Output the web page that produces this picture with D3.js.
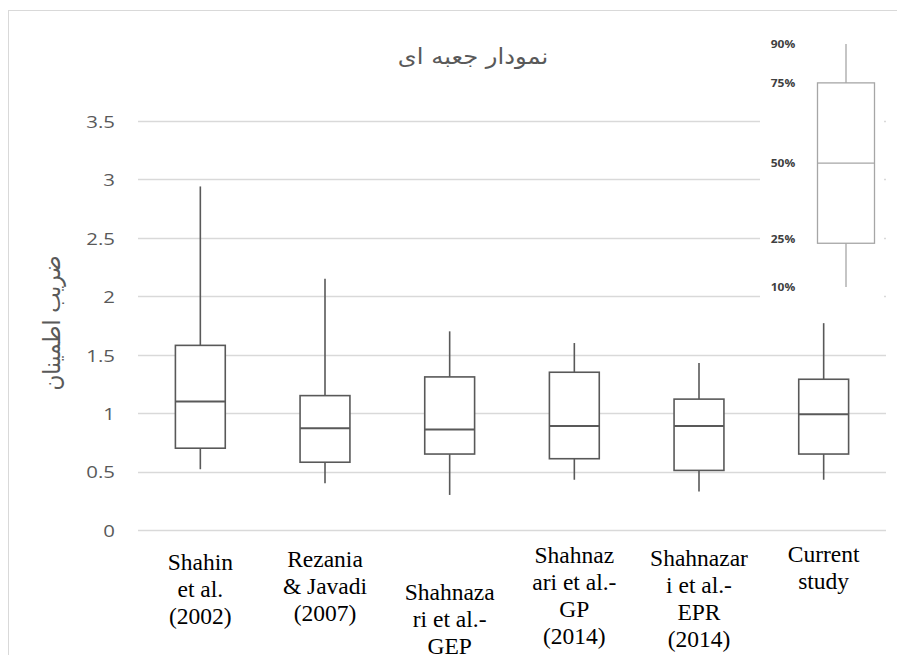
<!DOCTYPE html>
<html>
<head>
<meta charset="utf-8">
<script src="https://cdn.jsdelivr.net/npm/d3@7"></script>
<style>
html,body{margin:0;padding:0;background:#fff;}
svg{display:block;}
</style>
</head>
<body>
<svg id="chart" width="897" height="655"></svg>
<script>
// ---------- data ----------
const categories = [
  ["Shahin", "et al.", "(2002)"],
  ["Rezania", "& Javadi", "(2007)"],
  ["Shahnaza", "ri et al.-", "GEP"],
  ["Shahnaz", "ari et al.-", "GP", "(2014)"],
  ["Shahnazar", "i et al.-", "EPR", "(2014)"],
  ["Current", "study"]
];
const p10    = [0.52, 0.40, 0.30, 0.43, 0.33, 0.43];
const q1     = [0.70, 0.58, 0.65, 0.61, 0.51, 0.65];
const median = [1.10, 0.87, 0.86, 0.89, 0.89, 0.99];
const q3     = [1.58, 1.15, 1.31, 1.35, 1.12, 1.29];
const p90    = [2.94, 2.15, 1.70, 1.60, 1.43, 1.77];
const yTicks = [0, 0.5, 1, 1.5, 2, 2.5, 3, 3.5];
const title = "نمودار جعبه ای";
const yTitle = "ضریب اطمینان";
const legendLabels = ["10%", "25%", "50%", "75%", "90%"];
const legendLevels = [0, 0.18, 0.51, 0.84, 1];

// ---------- layout ----------
const W = 897, H = 655;
const plot = {left: 138, right: 886, top: 121, bottom: 530};
const stretch = 1.2;
const labelFirstBaseline = [570, 567, 600, 563, 566, 562];
const svg = d3.select("#chart");

// frame
svg.append("rect").attr("x", 8.5).attr("y", 10.5).attr("width", W).attr("height", H)
  .attr("fill", "none").attr("stroke", "#d9d9d9").attr("stroke-width", 1);

const y = d3.scaleLinear().domain([0, 3.5]).range([plot.bottom, plot.top]);
const x = d3.scaleBand().domain(d3.range(categories.length)).range([plot.left, plot.right]).padding(0);
const boxW = x.bandwidth() * 0.4;

// gridlines
svg.append("g").selectAll("line").data(yTicks).join("line")
  .attr("x1", plot.left).attr("x2", plot.right)
  .attr("y1", d => Math.round(y(d)) + 0.5).attr("y2", d => Math.round(y(d)) + 0.5)
  .attr("stroke", "#d9d9d9").attr("stroke-width", 1.3);

// y tick labels
svg.append("g").selectAll("text").data(yTicks).join("text")
  .attr("transform", d => `translate(115,${y(d)}) scale(${stretch},1)`)
  .attr("text-anchor", "end").attr("dominant-baseline", "central")
  .attr("font-family", "'Open Sans', sans-serif").attr("font-size", 17)
  .attr("fill", "#595959")
  .text(d => d);

// boxes
const stroke = "#595959";
const g = svg.append("g");
categories.forEach((c, i) => {
  const cx = x(i) + x.bandwidth() / 2;
  g.append("line").attr("x1", cx).attr("x2", cx).attr("y1", y(q3[i])).attr("y2", y(p90[i]))
    .attr("stroke", stroke).attr("stroke-width", 1.6);
  g.append("line").attr("x1", cx).attr("x2", cx).attr("y1", y(q1[i])).attr("y2", y(p10[i]))
    .attr("stroke", stroke).attr("stroke-width", 1.6);
  g.append("rect").attr("x", cx - boxW / 2).attr("y", y(q3[i]))
    .attr("width", boxW).attr("height", y(q1[i]) - y(q3[i]))
    .attr("fill", "#fff").attr("stroke", stroke).attr("stroke-width", 1.6);
  g.append("line").attr("x1", cx - boxW / 2).attr("x2", cx + boxW / 2)
    .attr("y1", y(median[i])).attr("y2", y(median[i]))
    .attr("stroke", stroke).attr("stroke-width", 2);
});

// x labels
categories.forEach((lines, i) => {
  const cx = x(i) + x.bandwidth() / 2;
  const t = svg.append("text").attr("text-anchor", "middle")
    .attr("font-family", "'Liberation Serif', 'Times New Roman', serif")
    .attr("font-size", 23.5).attr("fill", "#000");
  lines.forEach((ln, k) => {
    t.append("tspan").attr("x", cx).attr("y", labelFirstBaseline[i] + k * 27).text(ln);
  });
});

// title
svg.append("text")
  .attr("transform", `translate(473,56) scale(1.1,1)`)
  .attr("text-anchor", "middle").attr("dominant-baseline", "central")
  .attr("font-family", "'DejaVu Sans', sans-serif").attr("font-size", 22)
  .attr("fill", "#595959").attr("direction", "rtl")
  .text(title);

// y title
svg.append("text")
  .attr("transform", `translate(52,323) scale(1.1,1) rotate(-90)`)
  .attr("text-anchor", "middle").attr("dominant-baseline", "central")
  .attr("font-family", "'DejaVu Sans', sans-serif").attr("font-size", 21.5)
  .attr("fill", "#595959")
  .text(yTitle);

// legend inset
svg.append("rect").attr("x", 760).attr("y", 14).attr("width", 124).attr("height", 288).attr("fill", "#fff");
const ly = d3.scaleLinear().domain([0, 1]).range([287, 44]);
const lx = 846, lw = 57;
const lcol = "#a6a6a6";
const lg = svg.append("g");
lg.append("line").attr("x1", lx).attr("x2", lx).attr("y1", ly(legendLevels[4])).attr("y2", ly(legendLevels[3]))
  .attr("stroke", lcol).attr("stroke-width", 1.3);
lg.append("line").attr("x1", lx).attr("x2", lx).attr("y1", ly(legendLevels[1])).attr("y2", ly(legendLevels[0]))
  .attr("stroke", lcol).attr("stroke-width", 1.3);
lg.append("rect").attr("x", lx - lw / 2).attr("y", ly(legendLevels[3]))
  .attr("width", lw).attr("height", ly(legendLevels[1]) - ly(legendLevels[3]))
  .attr("fill", "none").attr("stroke", lcol).attr("stroke-width", 1.3);
lg.append("line").attr("x1", lx - lw / 2).attr("x2", lx + lw / 2)
  .attr("y1", ly(legendLevels[2])).attr("y2", ly(legendLevels[2]))
  .attr("stroke", lcol).attr("stroke-width", 1.3);
lg.selectAll("text").data(legendLabels).join("text")
  .attr("transform", (d, i) => `translate(783,${ly(legendLevels[i]) - (i === 1 ? 4 : 0)}) scale(${stretch},1)`)
  .attr("text-anchor", "middle").attr("dominant-baseline", "central")
  .attr("font-family", "'Open Sans', sans-serif").attr("font-weight", "bold").attr("font-size", 10)
  .attr("fill", "#404040")
  .text(d => d);
</script>
</body>
</html>
